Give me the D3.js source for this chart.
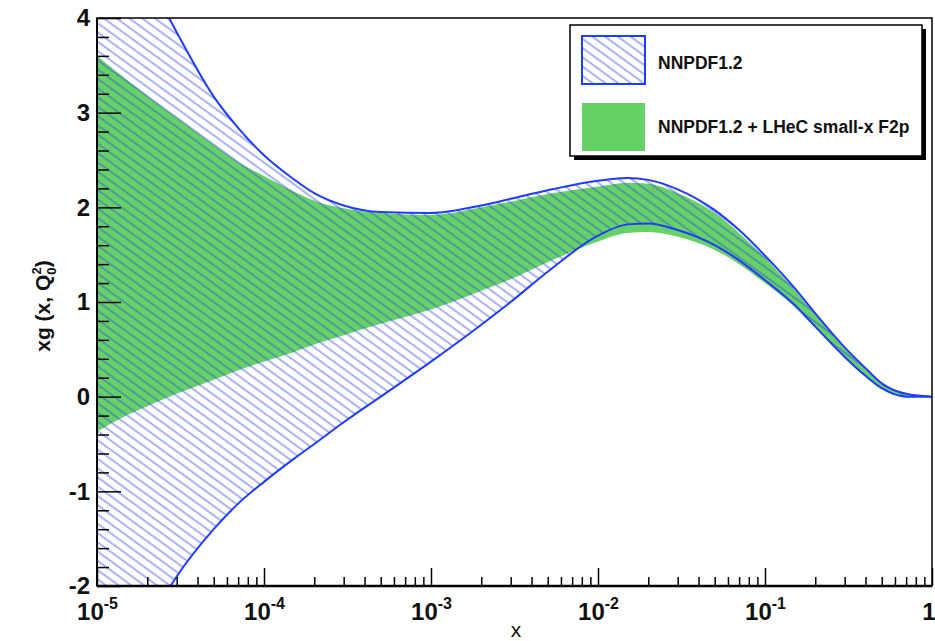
<!DOCTYPE html>
<html>
<head>
<meta charset="utf-8">
<script src="https://cdn.jsdelivr.net/npm/d3@7"></script>
<style>
  html, body { margin: 0; padding: 0; background: #fff; }
  svg { display: block; }
  text { font-family: "Liberation Sans", Arial, Helvetica, sans-serif; font-weight: bold; fill: #111; }
</style>
</head>
<body>
<svg id="chart"></svg>
<script>
// x grid (log scale) and band edges
const xs = [1e-5, 1.5e-5, 2e-5, 3e-5, 5e-5, 7e-5, 1e-4, 1.5e-4, 2e-4, 3e-4, 5e-4, 1e-3, 2e-3, 3e-3, 5e-3,
            1e-2, 1.5e-2, 2e-2, 3e-2, 5e-2, 7e-2, 0.1, 0.15, 0.2, 0.3, 0.4, 0.5, 0.7, 1];

const nnpdfUpper = [5.6, 4.9, 4.45, 3.85, 3.17, 2.84, 2.55, 2.30, 2.15, 2.02, 1.95, 1.94, 2.02, 2.09, 2.18,
                    2.28, 2.31, 2.29, 2.19, 1.97, 1.76, 1.49, 1.15, 0.88, 0.52, 0.30, 0.14, 0.03, 0];
const nnpdfLower = [-3.6, -2.85, -2.42, -1.9, -1.4, -1.13, -0.9, -0.66, -0.5, -0.27, 0.0, 0.37, 0.76, 1.0, 1.32,
                    1.7, 1.82, 1.83, 1.76, 1.6, 1.44, 1.23, 0.97, 0.74, 0.42, 0.22, 0.09, 0.0, 0];
const lhecUpper = [3.6, 3.35, 3.18, 2.95, 2.66, 2.48, 2.33, 2.17, 2.07, 1.99, 1.94, 1.92, 2.0, 2.06, 2.14,
                   2.22, 2.26, 2.25, 2.15, 1.94, 1.73, 1.47, 1.13, 0.87, 0.51, 0.29, 0.13, 0.03, 0];
const lhecLower = [-0.37, -0.2, -0.1, 0.03, 0.18, 0.28, 0.37, 0.47, 0.55, 0.65, 0.77, 0.92, 1.12, 1.24, 1.42,
                   1.64, 1.73, 1.74, 1.69, 1.55, 1.40, 1.2, 0.95, 0.73, 0.41, 0.21, 0.08, 0.0, 0];

const yTicks = [-2, -1, 0, 1, 2, 3, 4];
const xDecades = [1e-5, 1e-4, 1e-3, 1e-2, 1e-1, 1];
const xTickLabels = [["10", "-5"], ["10", "-4"], ["10", "-3"], ["10", "-2"], ["10", "-1"], ["1", ""]];
const legendLabels = ["NNPDF1.2", "NNPDF1.2 + LHeC small-x F2p"];

const width = 935, height = 641;
const margin = { top: 18, right: 3, bottom: 55, left: 97 };
const pw = width - margin.left - margin.right;
const ph = height - margin.top - margin.bottom;

const svg = d3.select('#chart').attr('width', width).attr('height', height);

const defs = svg.append('defs');
defs.append('clipPath').attr('id', 'clip')
  .append('rect').attr('width', pw).attr('height', ph);

// blue hatch like ROOT fill style
const hatch = defs.append('pattern')
  .attr('id', 'hatch')
  .attr('patternUnits', 'userSpaceOnUse')
  .attr('width', 8).attr('height', 7.5)
  .attr('patternTransform', 'rotate(36)');
hatch.append('line')
  .attr('x1', 0).attr('y1', 3.75).attr('x2', 8).attr('y2', 3.75)
  .attr('stroke', 'rgba(50,70,240,0.42)')
  .attr('stroke-width', 2);

const g = svg.append('g').attr('transform', `translate(${margin.left},${margin.top})`);

const x = d3.scaleLog().domain([1e-5, 1]).range([0, pw]);
const y = d3.scaleLinear().domain([-2, 4]).range([ph, 0]);

const rows = xs.map((v, i) => ({
  x: v, bu: nnpdfUpper[i], bl: nnpdfLower[i], gu: lhecUpper[i], gl: lhecLower[i]
}));

const curve = d3.curveMonotoneX;
const plot = g.append('g').attr('clip-path', 'url(#clip)');

const green = d3.area()
  .x(d => x(d.x)).y0(d => y(d.gl)).y1(d => y(d.gu))
  .curve(curve);
const blue = d3.area()
  .x(d => x(d.x)).y0(d => y(d.bl)).y1(d => y(d.bu))
  .curve(curve);

plot.append('path').datum(rows)
  .attr('fill', '#66d266').attr('d', green);
plot.append('path').datum(rows)
  .attr('fill', 'url(#hatch)').attr('d', blue);

['bu', 'bl'].forEach(k => {
  plot.append('path').datum(rows)
    .attr('fill', 'none')
    .attr('stroke', '#1f3cff')
    .attr('stroke-width', 2)
    .attr('d', d3.line().x(d => x(d.x)).y(d => y(d[k])).curve(curve));
});

// frame
g.append('rect').attr('width', pw).attr('height', ph)
  .attr('fill', 'none').attr('stroke', '#000').attr('stroke-width', 1.5);
g.append('line').attr('x1', 0).attr('x2', 0).attr('y1', 0).attr('y2', ph)
  .attr('stroke', '#000').attr('stroke-width', 2);
g.append('line').attr('x1', 0).attr('x2', pw).attr('y1', ph).attr('y2', ph)
  .attr('stroke', '#000').attr('stroke-width', 2.5);

// y axis: inward ticks
const yMinor = d3.range(-2, 4.001, 0.2).filter(v => Math.abs(v - Math.round(v)) > 1e-6);
g.append('g').call(d3.axisLeft(y).tickValues(yMinor).tickSize(-12).tickFormat(''))
  .call(a => a.select('.domain').remove());
g.append('g').call(d3.axisLeft(y).tickValues(yTicks).tickSize(-24).tickPadding(7).tickFormat(d => String(d)))
  .call(a => a.select('.domain').remove())
  .call(a => a.selectAll('text').style('font-size', '24px').attr('fill', '#111'));
g.selectAll('.tick line').attr('stroke', '#000').attr('stroke-width', 1.5);

// x axis: inward ticks, minor at 2..9
const xMinor = [];
xDecades.slice(0, -1).forEach(d => { for (let m = 2; m <= 9; m++) xMinor.push(d * m); });
const xg = g.append('g').attr('transform', `translate(0,${ph})`);
xg.append('g').call(d3.axisBottom(x).tickValues(xMinor).tickSize(-9).tickFormat(''))
  .call(a => a.select('.domain').remove());
const xMaj = xg.append('g').call(d3.axisBottom(x).tickValues(xDecades).tickSize(-18).tickFormat(''))
  .call(a => a.select('.domain').remove());
xg.selectAll('.tick line').attr('stroke', '#000').attr('stroke-width', 1.5);

xMaj.selectAll('.tick').each(function(d, i) {
  const lab = xTickLabels[i];
  const last = i === xTickLabels.length - 1;
  const t = d3.select(this).append('text')
    .attr('x', last ? 3 : 0)
    .attr('y', 34).attr('text-anchor', last ? 'end' : 'middle')
    .style('font-size', '24px').attr('fill', '#111');
  t.append('tspan').text(lab[0]);
  if (lab[1]) t.append('tspan').attr('dy', -11).style('font-size', '16px').text(lab[1]);
});

// axis titles
g.append('text')
  .attr('x', 419).attr('y', ph + 51)
  .attr('text-anchor', 'middle')
  .style('font-size', '21px').style('font-weight', 'normal')
  .text('x');

const yt = svg.append('text')
  .attr('transform', 'translate(50,306) rotate(-90)')
  .attr('text-anchor', 'middle')
  .style('font-size', '21px');
yt.append('tspan').text('xg (x, Q');
yt.append('tspan').attr('dy', 6).style('font-size', '13px').text('0');
yt.append('tspan').attr('dx', -7).attr('dy', -15).style('font-size', '13px').text('2');
yt.append('tspan').attr('dy', 9).text(')');

// legend
const lg = svg.append('g').attr('transform', 'translate(570,25)');
lg.append('rect').attr('x', 4).attr('y', 4).attr('width', 352).attr('height', 131).attr('fill', '#000');
lg.append('rect').attr('width', 352).attr('height', 131)
  .attr('fill', '#fff').attr('stroke', '#000').attr('stroke-width', 1.5);
lg.append('rect').attr('x', 12).attr('y', 11).attr('width', 63).attr('height', 48)
  .attr('fill', 'url(#hatch)').attr('stroke', '#1f3cff').attr('stroke-width', 2);
lg.append('rect').attr('x', 12).attr('y', 78).attr('width', 63).attr('height', 48)
  .attr('fill', '#66d266');
lg.selectAll('text.leg').data(legendLabels).join('text')
  .attr('class', 'leg')
  .attr('x', 88).attr('y', (d, i) => 44 + i * 64)
  .style('font-size', '17.5px')
  .text(d => d);
</script>
</body>
</html>
